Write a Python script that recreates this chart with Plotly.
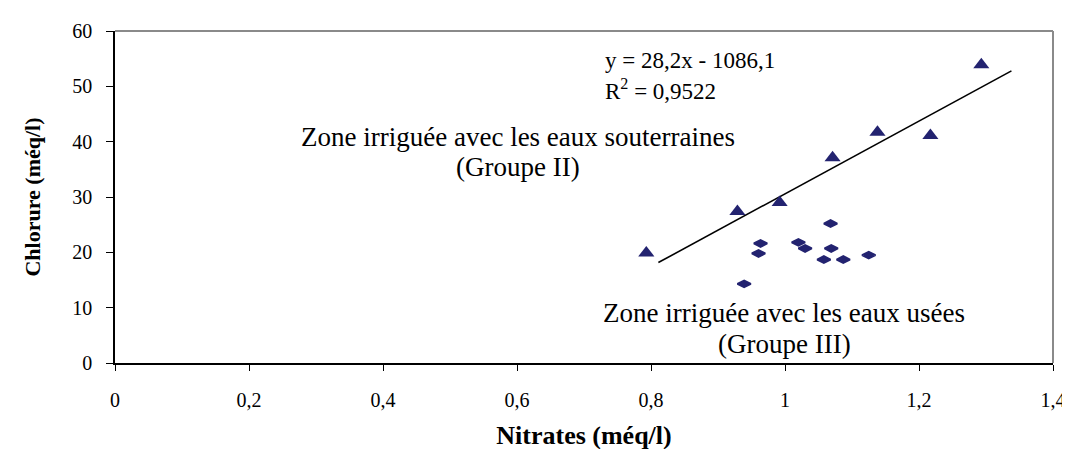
import plotly.graph_objects as go

# Groupe II (eaux souterraines) - triangles
g2_nitrates = [0.793, 0.929, 0.992, 1.071, 1.138, 1.217, 1.293]
g2_chlorure = [19.9, 27.4, 29.0, 37.1, 41.7, 41.1, 53.9]

# Groupe III (eaux usées) - diamonds
g3_nitrates = [0.939, 0.9605, 0.9635, 1.020, 1.030, 1.058, 1.068, 1.069, 1.087, 1.125]
g3_chlorure = [14.3, 19.8, 21.6, 21.8, 20.7, 18.7, 25.2, 20.7, 18.7, 19.5]

# Trend line end points
trend_x = [0.811, 1.338]
trend_y = [18.15, 52.8]

x_ticks = [0, 0.2, 0.4, 0.6, 0.8, 1.0, 1.2, 1.4]
x_tick_labels = ["0", "0,2", "0,4", "0,6", "0,8", "1", "1,2", "1,4"]
y_ticks = [0, 10, 20, 30, 40, 50, 60]

NAVY = "#232370"
FONT = "Liberation Serif, Times New Roman, serif"

fig = go.Figure()
fig.add_trace(go.Scatter(x=trend_x, y=trend_y, mode="lines",
                         line=dict(color="black", width=1.6), showlegend=False))
fig.add_trace(go.Scatter(x=g2_nitrates, y=g2_chlorure, mode="markers",
                         marker=dict(symbol="triangle-up", size=14, color=NAVY,
                                     line=dict(width=0)), showlegend=False))
fig.add_trace(go.Scatter(x=g3_nitrates, y=g3_chlorure, mode="markers",
                         marker=dict(symbol="diamond-wide", size=9.5, color=NAVY,
                                     line=dict(width=2, color=NAVY)), showlegend=False))

fig.update_layout(
    width=1070, height=449,
    margin=dict(l=107, r=20, t=16, b=87),
    paper_bgcolor="white", plot_bgcolor="white",
    font=dict(family=FONT, color="black", size=20),
    xaxis=dict(range=[0, 1.4], tickvals=x_ticks, ticktext=x_tick_labels,
               showgrid=False, zeroline=False, showline=True, linecolor="black",
               linewidth=1.5, ticks="outside", ticklen=6, tickcolor="black",
               tickwidth=1.2, ticklabelstandoff=12,
               tickfont=dict(family=FONT, size=20),
               title=dict(text="<b>Nitrates (méq/l)</b>", standoff=16,
                          font=dict(family=FONT, size=26))),
    yaxis=dict(range=[0, 60], tickvals=y_ticks,
               showgrid=False, zeroline=False, showline=True, linecolor="black",
               linewidth=1.5, ticks="outside", ticklen=7, tickcolor="black",
               tickwidth=1.2, ticklabelstandoff=10,
               tickfont=dict(family=FONT, size=20),
               title=dict(text="<b>Chlorure (méq/l)</b>", standoff=26,
                          font=dict(family=FONT, size=22))),
)

# grey plot-area border on top and right
fig.add_shape(type="line", xref="paper", yref="paper", x0=0, x1=1, y0=1, y1=1,
              line=dict(color="#8a8a8a", width=2))
fig.add_shape(type="line", xref="paper", yref="paper", x0=1, x1=1, y0=0, y1=1,
              line=dict(color="#8a8a8a", width=2))

fig.add_annotation(x=0.729, y=54.6, xref="x", yref="y", xanchor="left", yanchor="middle",
                   text="y = 28,2x - 1086,1", showarrow=False,
                   font=dict(family=FONT, size=23))
fig.add_annotation(x=0.729, y=49.4, xref="x", yref="y", xanchor="left", yanchor="middle",
                   text="R<sup>2</sup> = 0,9522", showarrow=False,
                   font=dict(family=FONT, size=23))
fig.add_annotation(x=0.601, y=40.92, xref="x", yref="y", xanchor="center", yanchor="middle",
                   text="Zone irriguée avec les eaux souterraines",
                   showarrow=False, font=dict(family=FONT, size=27))
fig.add_annotation(x=0.601, y=35.37, xref="x", yref="y", xanchor="center", yanchor="middle",
                   text="(Groupe II)",
                   showarrow=False, font=dict(family=FONT, size=27))
fig.add_annotation(x=0.999, y=9.02, xref="x", yref="y", xanchor="center", yanchor="middle",
                   text="Zone irriguée avec les eaux usées",
                   showarrow=False, font=dict(family=FONT, size=27))
fig.add_annotation(x=0.999, y=3.47, xref="x", yref="y", xanchor="center", yanchor="middle",
                   text="(Groupe III)",
                   showarrow=False, font=dict(family=FONT, size=27))

fig.write_html("out.html")
